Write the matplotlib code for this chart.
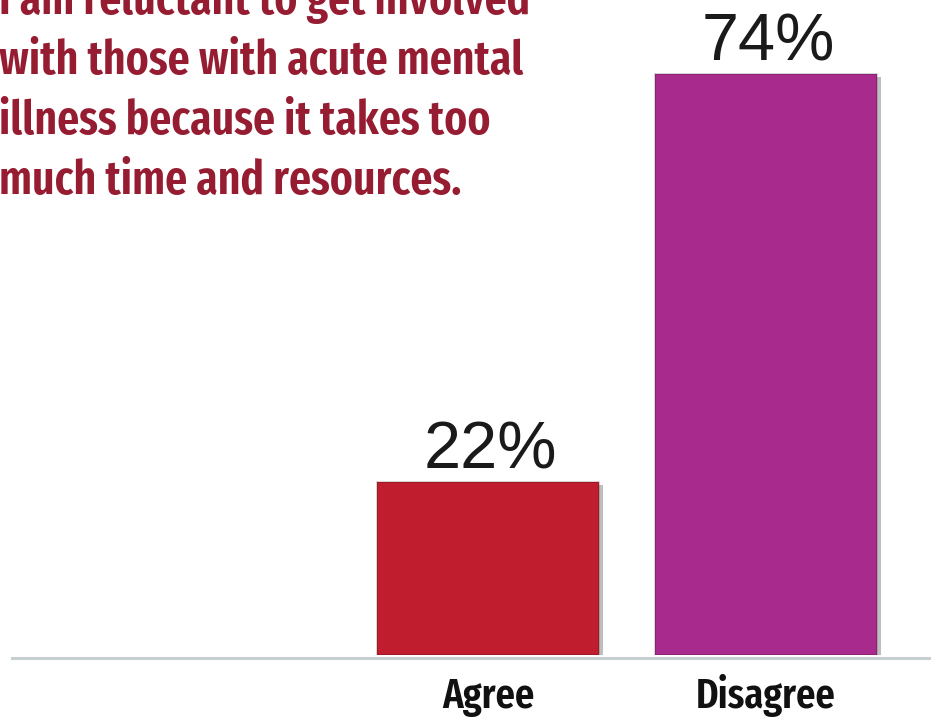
import matplotlib
matplotlib.use("Agg")
import matplotlib.pyplot as plt
import matplotlib.patheffects as pe

# data
categories = ["Agree", "Disagree"]
values = [22, 74]
bar_colors = ["#c01d2e", "#a92a8d"]
title_lines = [
    "I am reluctant to get involved",
    "with those with acute mental",
    "illness because it takes too",
    "much time and resources.",
]

W, H = 931, 719
fig = plt.figure(figsize=(W / 100, H / 100), dpi=100)
fig.patch.set_facecolor("white")

# axes: bottom at the bar base (655 px from top), full width
base_px = 655
ax = fig.add_axes([0, 1 - base_px / H, 1, base_px / H])
px_per_unit_y = 7.85
ax.set_ylim(0, base_px / px_per_unit_y)
cx0, step = 488, 278
ax.set_xlim(-cx0 / step, (W - cx0) / step)
ax.axis("off")

x = list(range(len(categories)))
bars = ax.bar(x, values, width=0.8, color=bar_colors, zorder=3)
for b in bars:
    b.set_edgecolor("#00000030")
    b.set_linewidth(1.2)
    b.set_path_effects([pe.SimplePatchShadow(offset=(3, -2), shadow_rgbFace="#6f6f6f", alpha=0.45),
                        pe.Normal()])

# baseline
ax.axhline(-3 / px_per_unit_y, xmin=12 / W, xmax=1, color="#c6d0d3", lw=2.2,
           clip_on=False, zorder=2)

# value labels
for xi, v in zip(x, values):
    ax.annotate(f"{v}%", (xi, v), xytext=(2, 10), textcoords="offset points",
                ha="center", va="baseline", fontsize=48, color="#1a1a1a",
                family="Liberation Sans")

cond = "Fira Sans Extra Condensed"

# category labels
for xi, c in zip(x, categories):
    ax.annotate(c, (xi, 0), xytext=(0, -38), textcoords="offset points",
                ha="center", va="baseline", fontsize=30, color="#111111",
                family=cond, weight=600)

# question text, top left (each line placed on its own baseline)
title_font = dict(family=cond, weight=600, color="#961c32")
probe = fig.text(0, 0, title_lines[1], fontsize=30, **title_font)
fig.canvas.draw()
w = probe.get_window_extent().width
probe.remove()
fs = 30 * 523 / w
for i, line in enumerate(title_lines):
    y = 14 + 60 * i
    fig.text(-1 / W, 1 - y / H, line, fontsize=fs, ha="left", va="baseline", **title_font)

fig.savefig("out.png", dpi=100)
